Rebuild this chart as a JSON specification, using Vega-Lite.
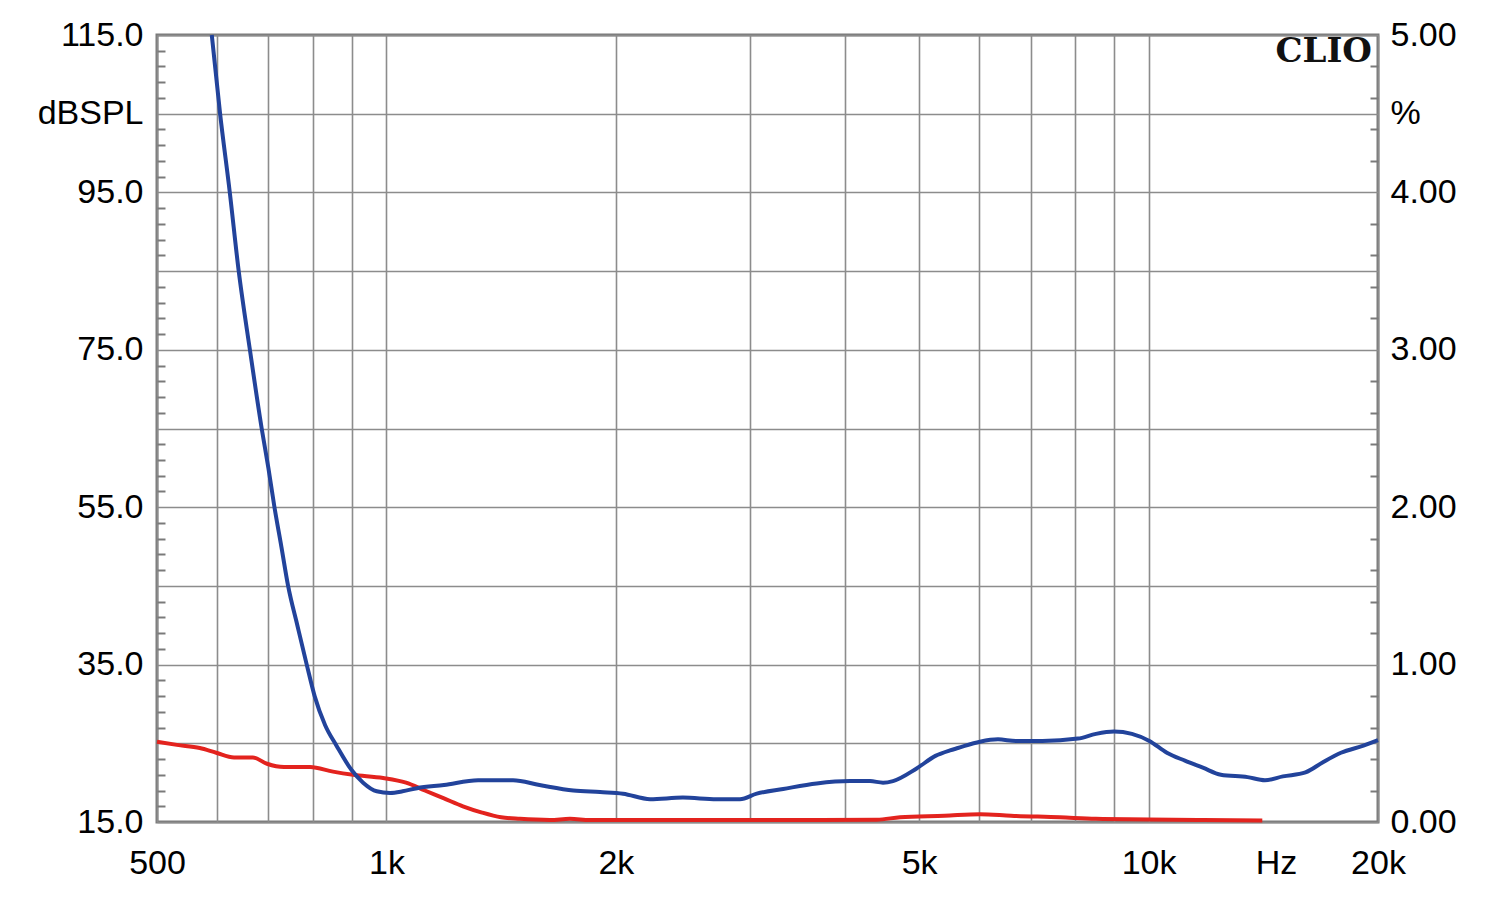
{
  "$schema": "https://vega.github.io/schema/vega-lite/v6.json",
  "width": 1221,
  "height": 787,
  "autosize": {"type": "none"},
  "padding": {"left": 157, "top": 35, "right": 122, "bottom": 77},
  "background": "white",
  "config": {
    "view": {"stroke": "#7a7a7a", "strokeWidth": 3},
    "axis": {"labelFont": "Liberation Sans", "labelFontSize": 34, "labelColor": "#000000", "title": null, "domain": false, "labelOverlap": false, "labelFlush": false, "labelBound": false, "tickCount": 500}
  },
  "datasets": {
    "red": [
      {"f": 500, "pct": 0.51}, {"f": 531, "pct": 0.49}, {"f": 569, "pct": 0.47}, {"f": 598, "pct": 0.44},
      {"f": 631, "pct": 0.41}, {"f": 668, "pct": 0.41}, {"f": 697, "pct": 0.37}, {"f": 734, "pct": 0.35},
      {"f": 794, "pct": 0.35}, {"f": 851, "pct": 0.32}, {"f": 904, "pct": 0.30}, {"f": 990, "pct": 0.28},
      {"f": 1061, "pct": 0.25}, {"f": 1123, "pct": 0.20}, {"f": 1190, "pct": 0.15}, {"f": 1260, "pct": 0.10},
      {"f": 1335, "pct": 0.06}, {"f": 1414, "pct": 0.03}, {"f": 1497, "pct": 0.02}, {"f": 1639, "pct": 0.013},
      {"f": 1741, "pct": 0.02}, {"f": 1850, "pct": 0.013}, {"f": 2500, "pct": 0.012}, {"f": 3500, "pct": 0.012},
      {"f": 4400, "pct": 0.015}, {"f": 4720, "pct": 0.03}, {"f": 5400, "pct": 0.04}, {"f": 6010, "pct": 0.05},
      {"f": 6600, "pct": 0.04}, {"f": 7650, "pct": 0.03}, {"f": 8530, "pct": 0.02}, {"f": 11800, "pct": 0.013},
      {"f": 14100, "pct": 0.01}
    ],
    "blue": [
      {"f": 590, "db": 115}, {"f": 605, "db": 105}, {"f": 623, "db": 95}, {"f": 640, "db": 85},
      {"f": 662, "db": 75}, {"f": 686, "db": 65}, {"f": 700, "db": 60}, {"f": 713, "db": 55},
      {"f": 728, "db": 50}, {"f": 743, "db": 45}, {"f": 764, "db": 40}, {"f": 786, "db": 35},
      {"f": 805, "db": 31}, {"f": 831, "db": 27.3}, {"f": 860, "db": 24.7}, {"f": 900, "db": 21.6},
      {"f": 932, "db": 20.0}, {"f": 971, "db": 18.9}, {"f": 1011, "db": 18.7}, {"f": 1050, "db": 18.9},
      {"f": 1097, "db": 19.3}, {"f": 1190, "db": 19.7}, {"f": 1319, "db": 20.3}, {"f": 1466, "db": 20.3}, {"f": 1588, "db": 19.7},
      {"f": 1759, "db": 19.0}, {"f": 1907, "db": 18.8}, {"f": 2044, "db": 18.6}, {"f": 2218, "db": 17.9},
      {"f": 2449, "db": 18.1}, {"f": 2712, "db": 17.9}, {"f": 2910, "db": 17.9}, {"f": 3061, "db": 18.6},
      {"f": 3316, "db": 19.2}, {"f": 3669, "db": 19.9}, {"f": 4057, "db": 20.2}, {"f": 4310, "db": 20.2},
      {"f": 4483, "db": 20.0}, {"f": 4620, "db": 20.2}, {"f": 4962, "db": 21.8}, {"f": 5252, "db": 23.4},
      {"f": 5488, "db": 24.1}, {"f": 5622, "db": 24.4}, {"f": 6008, "db": 25.2}, {"f": 6345, "db": 25.5},
      {"f": 6699, "db": 25.3}, {"f": 7257, "db": 25.3}, {"f": 8078, "db": 25.6}, {"f": 8530, "db": 26.2},
      {"f": 9007, "db": 26.5}, {"f": 9509, "db": 26.2}, {"f": 10025, "db": 25.3}, {"f": 10569, "db": 23.8},
      {"f": 11159, "db": 22.8}, {"f": 11782, "db": 21.9}, {"f": 12441, "db": 21.0}, {"f": 13486, "db": 20.7},
      {"f": 14214, "db": 20.3}, {"f": 15006, "db": 20.8}, {"f": 16064, "db": 21.3}, {"f": 16936, "db": 22.6},
      {"f": 17882, "db": 23.8}, {"f": 19138, "db": 24.7}, {"f": 20000, "db": 25.4}
    ]
  },
  "layer": [
    {
      "data": {"name": "red"},
      "mark": {"type": "line", "color": "#e3231e", "strokeWidth": 4, "interpolate": "monotone"},
      "encoding": {
        "x": {
          "field": "f", "type": "quantitative",
          "scale": {"type": "log", "domain": [500, 20000], "nice": false},
          "axis": {
            "orient": "bottom",
            "values": [500, 600, 700, 800, 900, 1000, 2000, 3000, 4000, 5000, 6000, 7000, 8000, 9000, 10000, 14700, 20000],
            "labelExpr": "datum.value==500?'500':datum.value==1000?'1k':datum.value==2000?'2k':datum.value==5000?'5k':datum.value==10000?'10k':datum.value==14700?'Hz':datum.value==20000?'20k':''",
            "grid": true, "gridColor": "#8c8c8c", "gridWidth": 1.6,
            "gridOpacity": {"condition": {"test": "datum.value==14700", "value": 0}, "value": 1},
            "ticks": false, "labelPadding": 24, "labelBaseline": "top"
          }
        },
        "y": {
          "field": "pct", "type": "quantitative",
          "scale": {"domain": [0, 5], "nice": false, "zero": false},
          "axis": {
            "orient": "right",
            "values": [0, 0.2, 0.4, 0.6, 0.8, 1, 1.2, 1.4, 1.6, 1.8, 2, 2.2, 2.4, 2.6, 2.8, 3, 3.2, 3.4, 3.6, 3.8, 4, 4.2, 4.4, 4.5, 4.6, 4.8, 5],
            "labelExpr": "abs(datum.value-4.5)<0.01?'%':(abs(datum.value-round(datum.value))<0.001?format(datum.value,'.2f'):'')",
            "grid": false,
            "ticks": true, "tickSize": -8, "tickColor": "#7a7a7a", "tickWidth": 2,
            "tickOpacity": {"condition": {"test": "abs(datum.value-round(datum.value))<0.001 || abs(datum.value-4.5)<0.01", "value": 0}, "value": 1},
            "labelPadding": 20, "labelAlign": "left"
          }
        }
      }
    },
    {
      "layer": [
        {
          "data": {"name": "blue"},
          "mark": {"type": "line", "color": "#22439b", "strokeWidth": 4, "interpolate": "monotone"},
          "encoding": {
            "x": {"field": "f", "type": "quantitative", "scale": {"type": "log", "domain": [500, 20000], "nice": false}},
            "y": {
              "field": "db", "type": "quantitative",
              "scale": {"domain": [15, 115], "nice": false, "zero": false},
              "axis": {
                "orient": "left",
                "values": [15, 17, 19, 21, 23, 25, 27, 29, 31, 33, 35, 37, 39, 41, 43, 45, 47, 49, 51, 53, 55, 57, 59, 61, 63, 65, 67, 69, 71, 73, 75, 77, 79, 81, 83, 85, 87, 89, 91, 93, 95, 97, 99, 101, 103, 105, 107, 109, 111, 113, 115],
                "tickCount": 500,
                "labelExpr": "datum.value==105?'dBSPL':((datum.value-15)%20==0?format(datum.value,'.1f'):'')",
                "grid": true, "gridColor": "#8c8c8c", "gridWidth": 1.6,
                "gridOpacity": {"condition": {"test": "(datum.value-15)%10==0", "value": 1}, "value": 0},
                "ticks": true, "tickSize": -8, "tickColor": "#7a7a7a", "tickWidth": 2,
                "tickOpacity": {"condition": {"test": "(datum.value-15)%10==0", "value": 0}, "value": 1},
                "labelPadding": 22, "labelAlign": "right"
              }
            }
          }
        },
        {
          "data": {"values": [{}]},
          "mark": {"type": "text", "text": "CLIO", "font": "DejaVu Serif", "fontWeight": "bold", "fontSize": 34, "align": "right", "baseline": "middle", "color": "#111111"},
          "encoding": {
            "x": {"datum": 19640, "type": "quantitative"},
            "y": {"datum": 112.8, "type": "quantitative"}
          }
        }
      ]
    }
  ],
  "resolve": {"scale": {"y": "independent"}, "axis": {"y": "independent"}}
}
